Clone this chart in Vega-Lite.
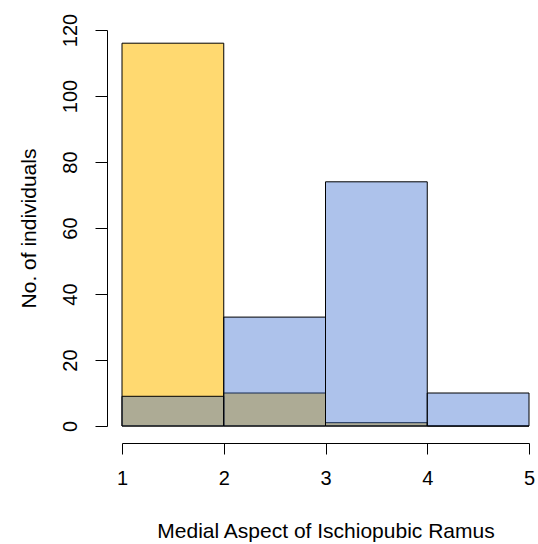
{
  "$schema": "https://vega.github.io/schema/vega-lite/v6.json",
  "width": 407,
  "height": 396,
  "autosize": "none",
  "padding": {"left": 122, "top": 30, "right": 9, "bottom": 118},
  "background": "white",
  "config": {
    "view": {"stroke": null},
    "font": "Liberation Sans",
    "axis": {
      "grid": false,
      "domainColor": "#000",
      "tickColor": "#000",
      "labelColor": "#000",
      "titleColor": "#000",
      "labelFont": "Liberation Sans",
      "titleFont": "Liberation Sans",
      "labelFontSize": 20,
      "titleFontSize": 21,
      "titleFontWeight": "normal",
      "labelFlush": false,
      "labelOverlap": false,
      "domainWidth": 1,
      "tickWidth": 1
    }
  },
  "data": {
    "values": [
      {"group": "yellow", "bin_start": 1, "bin_end": 2, "count": 116},
      {"group": "yellow", "bin_start": 2, "bin_end": 3, "count": 10},
      {"group": "yellow", "bin_start": 3, "bin_end": 4, "count": 1},
      {"group": "yellow", "bin_start": 4, "bin_end": 5, "count": 0},
      {"group": "blue", "bin_start": 1, "bin_end": 2, "count": 9},
      {"group": "blue", "bin_start": 2, "bin_end": 3, "count": 33},
      {"group": "blue", "bin_start": 3, "bin_end": 4, "count": 74},
      {"group": "blue", "bin_start": 4, "bin_end": 5, "count": 10}
    ]
  },
  "layer": [
    {
      "transform": [{"filter": "datum.group === 'yellow'"}],
      "mark": {"type": "bar", "fill": "#FFD970", "fillOpacity": 1, "stroke": "#000", "strokeWidth": 1},
      "encoding": {
        "x": {
          "field": "bin_start", "type": "quantitative",
          "scale": {"domain": [1, 5], "nice": false, "zero": false},
          "axis": {
            "title": "Medial Aspect of Ischiopubic Ramus",
            "values": [1, 2, 3, 4, 5],
            "format": "d",
            "offset": 17,
            "tickSize": 11,
            "labelPadding": 14,
            "labelBaseline": "top",
            "titleBaseline": "alphabetic",
            "titleY": 94,
            "titleX": 203.5,
            "titleAnchor": "middle"
          }
        },
        "x2": {"field": "bin_end"},
        "y": {
          "field": "count", "type": "quantitative",
          "scale": {"domain": [0, 120], "nice": false, "padding": 0},
          "axis": {
            "title": "No. of individuals",
            "values": [0, 20, 40, 60, 80, 100, 120],
            "offset": 15,
            "tickSize": 12,
            "labelAngle": -90,
            "labelAlign": "center",
            "labelBaseline": "alphabetic",
            "labelPadding": 19,
            "titleAngle": -90,
            "titleBaseline": "alphabetic",
            "titleAlign": "center",
            "titleX": -72,
            "titleY": 198
          }
        },
        "y2": {"datum": 0}
      }
    },
    {
      "transform": [{"filter": "datum.group === 'blue'"}],
      "mark": {"type": "bar", "fill": "#3266CD", "fillOpacity": 0.4, "stroke": "#000", "strokeWidth": 1},
      "encoding": {
        "x": {"field": "bin_start", "type": "quantitative"},
        "x2": {"field": "bin_end"},
        "y": {"field": "count", "type": "quantitative"},
        "y2": {"datum": 0}
      }
    }
  ]
}
